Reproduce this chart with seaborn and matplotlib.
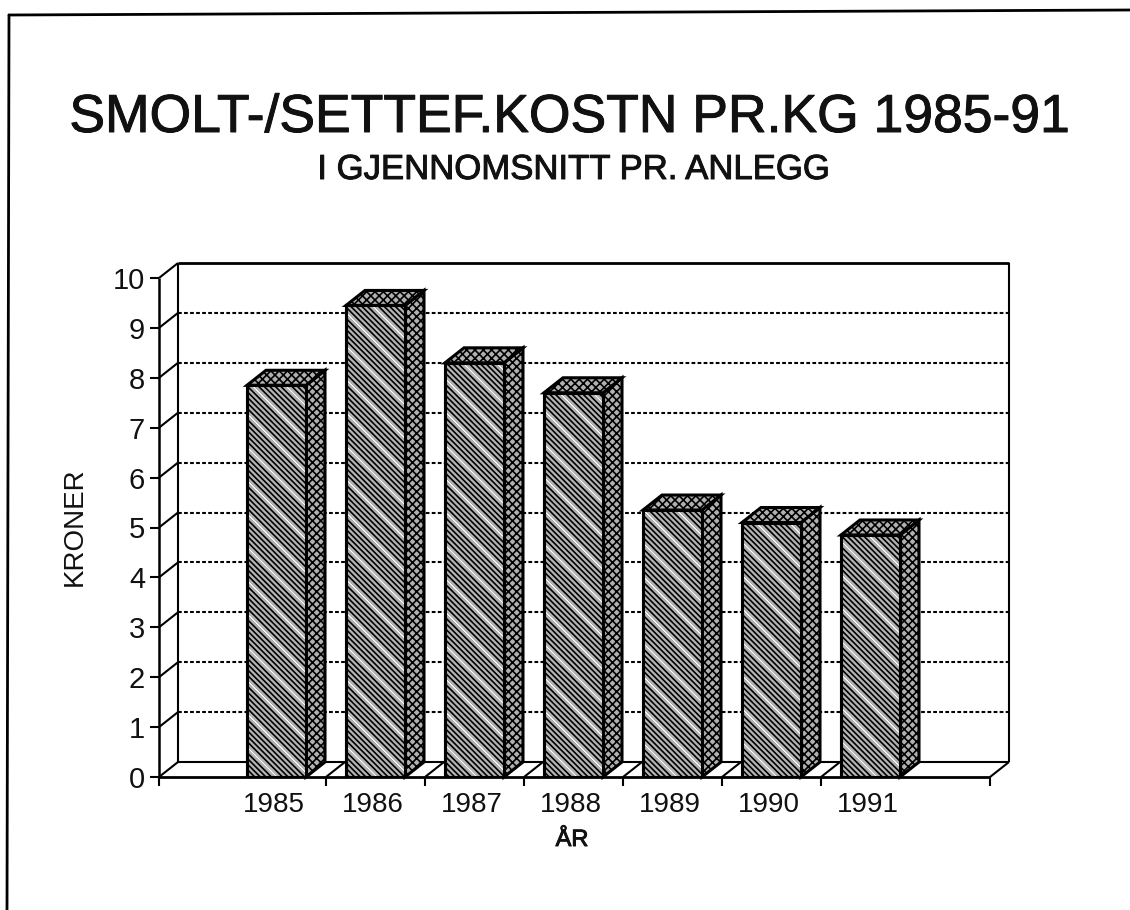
import matplotlib
matplotlib.use("Agg")
import matplotlib.pyplot as plt
import matplotlib.patheffects as pe
from matplotlib.patches import Polygon, Rectangle
import pandas as pd
import seaborn as sns

YEARS = ["1985", "1986", "1987", "1988", "1989", "1990", "1991"]
KRONER = [7.85, 9.45, 8.3, 7.7, 5.35, 5.1, 4.85]
Y_TICKS = [0, 1, 2, 3, 4, 5, 6, 7, 8, 9, 10]

TITLE = "SMOLT-/SETTEF.KOSTN PR.KG 1985-91"
SUBTITLE = "I GJENNOMSNITT PR. ANLEGG"

# pixel layout of the reference
W, H = 1130, 910
AX_L, AX_R, AX_T, AX_B = 159, 990, 278, 777
STEP = 99.0            # px per category
FIRST = 276.5          # px centre of first front face
DEPTH_X_PX, DEPTH_Y_PX = 19, 15
BAR_W = 59 / STEP

sns.set_theme(style="white")
plt.rcParams["font.family"] = ["Liberation Sans", "DejaVu Sans"]
plt.rcParams["hatch.linewidth"] = 1.2
plt.rcParams["hatch.color"] = "black"

# the scanned text is a bit heavier than the plain font
HEAVY = [pe.withStroke(linewidth=0.7, foreground="#111111")]

df = pd.DataFrame({"year": YEARS, "kroner": KRONER})

fig = plt.figure(figsize=(W / 100, H / 100), dpi=100, facecolor="white")
ax = fig.add_axes([AX_L / W, 1 - AX_B / H, (AX_R - AX_L) / W, (AX_B - AX_T) / H])

sns.barplot(data=df, x="year", y="kroner", color="#b4b4b4", width=BAR_W,
            saturation=1, ax=ax, zorder=4)

ax.set_xlim((AX_L - FIRST) / STEP, (AX_R - FIRST) / STEP)
ax.set_ylim(0, 10)

dx = DEPTH_X_PX / STEP
dy = DEPTH_Y_PX * 10 / (AX_B - AX_T)
x0, x1 = ax.get_xlim()


def line(xs, ys, **kw):
    kw.setdefault("color", "black")
    kw.setdefault("lw", 1.5)
    ax.plot(xs, ys, clip_on=False, solid_capstyle="butt", **kw)


# back wall and floor
line([x0 + dx, x0 + dx], [dy, 10 + dy], zorder=1)
line([x0 + dx, x1 + dx], [10 + dy, 10 + dy], lw=2, zorder=1)
line([x1 + dx, x1 + dx], [dy, 10 + dy], zorder=1)
line([x0 + dx, x1 + dx], [dy, dy], zorder=1)
line([x1, x1 + dx], [0, dy], zorder=1)

for v in Y_TICKS:
    line([x0, x0 + dx], [v, v + dy], zorder=1)
    if 0 < v < 10:
        line([x0 + dx, x1 + dx], [v + dy, v + dy], ls=(0, (1.8, 1.1)), lw=1.5, zorder=1)

# x ticks sit between the bars, plus both ends of the floor
between = [i + 0.5 for i in range(len(YEARS) - 1)]
x_ticks = [x0] + between + [x1]
for t in between:
    line([t, t + dx], [0, dy], zorder=1)

# faces of each bar
for bar in ax.patches[:len(YEARS)]:
    bar.set_hatch("\\\\\\\\\\\\")
    bar.set_edgecolor("black")
    bar.set_linewidth(2.2)
    left, w, h = bar.get_x(), bar.get_width(), bar.get_height()
    # light streaks running down the front face
    ax.add_patch(Rectangle((left, 0), w, h, facecolor="none", edgecolor="white",
                           hatch="\\", lw=0, zorder=4.1))
    side = [(left + w, 0), (left + w + dx, dy), (left + w + dx, h + dy), (left + w, h)]
    top = [(left, h), (left + dx, h + dy), (left + w + dx, h + dy), (left + w, h)]
    for pts in (side, top):
        ax.add_patch(Polygon(pts, closed=True, facecolor="#b0b0b0", edgecolor="black",
                             hatch="xxxx", lw=2.2, clip_on=False, zorder=3.5))
    ax.add_patch(Rectangle((left, 0), w, h, facecolor="none", edgecolor="black",
                           lw=2.2, zorder=4.2))

# front axes on top
line([x0, x0], [0, 10], lw=1.8, zorder=6)
line([x0, x1], [0, 0], lw=2, zorder=6)

sns.despine(ax=ax, left=True, bottom=True)
ax.set_yticks(Y_TICKS)
ax.set_yticklabels([str(v) for v in Y_TICKS], fontsize=21, color="#111111")
ax.tick_params(axis="y", length=6.5, width=1.5, color="black", pad=3.5, left=True)
ax.set_xticks(x_ticks)
ax.set_xticklabels([""] * len(x_ticks))
ax.tick_params(axis="x", length=6.5, width=1.5, color="black", bottom=True)
ax.set_xlabel("")
ax.set_ylabel("")
ax.grid(False)
ax.patch.set_alpha(0)

for i, yr in enumerate(YEARS):
    ax.annotate(yr, (i, 0), xytext=(-2, -20), textcoords="offset points",
                ha="center", va="center", fontsize=20, color="#111111")

fig.text(570 / W, 1 - 132 / H, TITLE, ha="center", va="baseline", fontsize=38.5,
         color="#111111", path_effects=HEAVY)
fig.text(574 / W, 1 - 179 / H, SUBTITLE, ha="center", va="baseline", fontsize=25,
         color="#111111", path_effects=HEAVY)
fig.text(75 / W, 1 - 527 / H, "KRONER", rotation=90, ha="center", va="center", fontsize=20, color="#111111")
fig.text(572 / W, 1 - 840 / H, "ÅR", ha="center", va="center", fontsize=17,
         color="#111111", path_effects=HEAVY)

# scanned page frame, slightly skewed like the scan
fig.add_artist(plt.Line2D([9 / W, 7 / W], [1 - 15 / H, 0], color="black", lw=2))
fig.add_artist(plt.Line2D([9 / W, 1], [1 - 15 / H, 1 - 10 / H], color="black", lw=2))

fig.savefig("out.png", dpi=100)
